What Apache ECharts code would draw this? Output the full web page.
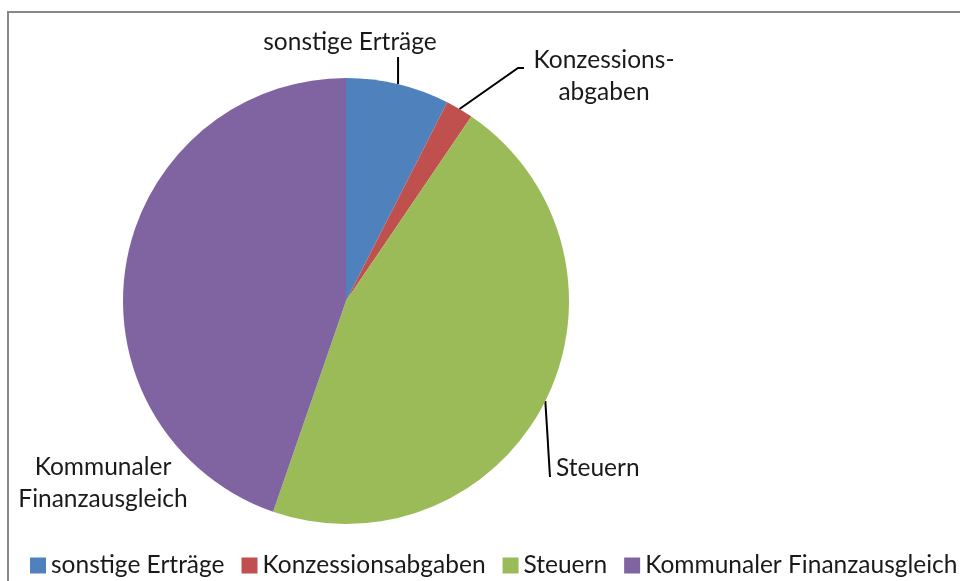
<!DOCTYPE html>
<html><head><meta charset="utf-8">
<script src="https://cdn.jsdelivr.net/npm/echarts@6/dist/echarts.min.js"></script>
<style>html,body{margin:0;padding:0;background:#fff}#c{width:960px;height:581px}</style>
</head><body><div id="c"></div>
<script>
const categories = ['sonstige Erträge', 'Konzessionsabgaben', 'Steuern', 'Kommunaler Finanzausgleich'];
const values = [7.5, 2.0, 45.8, 44.7];
const labelTexts = ['sonstige Erträge', 'Konzessions-\nabgaben', 'Steuern', 'Kommunaler\nFinanzausgleich'];
const colors = ['#4F81BD', '#C0504D', '#9BBB59', '#8064A2'];

const FONT = 'Lato';
const chart = echarts.init(document.getElementById('c'), null, {renderer: 'canvas'});
const labelPos = [
  {x: 350, y: 42, align: 'center', verticalAlign: 'middle'},
  {x: 604, y: 76, align: 'center', verticalAlign: 'middle'},
  {x: 556, y: 468, align: 'left', verticalAlign: 'middle'},
  {x: 103, y: 483, align: 'center', verticalAlign: 'middle'}
];
function linePoints(i, a) {
  if (i === 0) return [a, [a[0], 57]];
  if (i === 1) return [a, [518, 68], [524, 68]];
  if (i === 2) return [a, [550, 477]];
  return null;
}
chart.setOption({
  animation: false,
  color: colors,
  textStyle: {fontFamily: FONT},
  graphic: [{
    type: 'rect', shape: {x: 8, y: 12, width: 1100, height: 1000},
    style: {fill: 'none', stroke: '#888', lineWidth: 2}, silent: true
  }],
  legend: {
    data: categories, top: 548, left: 25, width: 1200, padding: 5,
    itemWidth: 16, itemHeight: 16, itemGap: 17, icon: 'rect',
    textStyle: {fontFamily: FONT, fontSize: 24.5, color: '#1a1a1a'}
  },
  series: [{
    type: 'pie', center: [346, 301], radius: 223, startAngle: 90, clockwise: true,
    data: categories.map((c, i) => ({name: c, value: values[i],
      label: {formatter: labelTexts[i]},
      labelLine: {show: i !== 3}})),
    label: {show: true, fontFamily: FONT, fontSize: 24.5, color: '#1a1a1a', lineHeight: 32,
      align: 'center', overflow: 'none', width: 300},
    labelLine: {show: true, lineStyle: {color: '#000', width: 2}, length: 20, length2: 10},
    labelLayout: function (p) {
      const r = Object.assign({}, labelPos[p.dataIndex]);
      if (p.labelLinePoints) {
        const pts = linePoints(p.dataIndex, p.labelLinePoints[0]);
        if (pts) r.labelLinePoints = pts;
      }
      return r;
    },
    emphasis: {disabled: true}
  }]
});
</script></body></html>
